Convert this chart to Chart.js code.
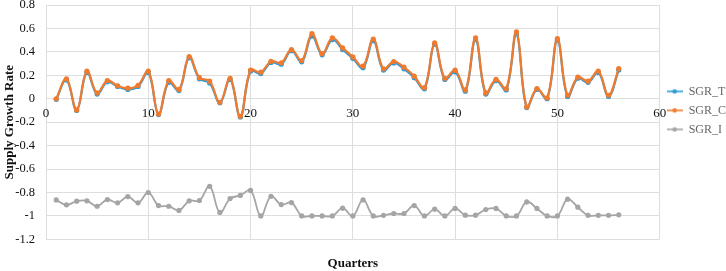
<!DOCTYPE html>
<html>
<head>
<meta charset="utf-8">
<script src="https://cdn.jsdelivr.net/npm/chart.js@4"></script>
<style>
  html, body { margin: 0; padding: 0; background: #fff; }
  #wrap { width: 726px; height: 271px; }
</style>
</head>
<body>
<div id="wrap"><canvas id="sgrChart" width="726" height="271"></canvas></div>
<script>
// Quarters 1..56
const quarters = [1, 2, 3, 4, 5, 6, 7, 8, 9, 10, 11, 12, 13, 14, 15, 16, 17, 18, 19, 20,
  21, 22, 23, 24, 25, 26, 27, 28, 29, 30, 31, 32, 33, 34, 35, 36, 37, 38, 39, 40,
  41, 42, 43, 44, 45, 46, 47, 48, 49, 50, 51, 52, 53, 54, 55, 56];

const sgrT = [-0.005, 0.16, -0.1, 0.225, 0.04, 0.145, 0.105, 0.08, 0.105, 0.225,
  -0.135, 0.14, 0.07, 0.35, 0.17, 0.135, -0.035, 0.165, -0.155, 0.235,
  0.215, 0.31, 0.295, 0.41, 0.315, 0.535, 0.375, 0.505, 0.42, 0.345,
  0.265, 0.495, 0.245, 0.305, 0.255, 0.18, 0.085, 0.465, 0.165, 0.23,
  0.065, 0.505, 0.04, 0.155, 0.075, 0.555, -0.075, 0.08, 0.0, 0.5,
  0.02, 0.175, 0.14, 0.225, 0.02, 0.245];

const sgrC = [0.0, 0.17, -0.095, 0.235, 0.05, 0.155, 0.11, 0.09, 0.115, 0.235,
  -0.13, 0.155, 0.08, 0.36, 0.18, 0.15, -0.03, 0.175, -0.15, 0.245,
  0.227, 0.32, 0.307, 0.42, 0.326, 0.555, 0.385, 0.52, 0.434, 0.357,
  0.278, 0.51, 0.256, 0.318, 0.27, 0.193, 0.095, 0.476, 0.174, 0.244,
  0.075, 0.52, 0.05, 0.165, 0.086, 0.57, -0.07, 0.086, 0.007, 0.513,
  0.03, 0.185, 0.15, 0.235, 0.03, 0.258];

const sgrI = [-0.863, -0.905, -0.874, -0.871, -0.917, -0.86, -0.888, -0.835, -0.888, -0.8,
  -0.911, -0.917, -0.953, -0.871, -0.868, -0.747, -0.97, -0.852, -0.825, -0.782,
  -1.0, -0.832, -0.903, -0.886, -1.0, -1.0, -1.0, -1.0, -0.934, -1.0,
  -0.863, -1.0, -0.995, -0.979, -0.979, -0.911, -1.0, -0.942, -1.0, -0.936,
  -0.993, -0.993, -0.945, -0.936, -1.0, -1.0, -0.88, -0.936, -1.0, -1.0,
  -0.857, -0.925, -0.995, -0.995, -0.995, -0.99];

const xTicks = [0, 10, 20, 30, 40, 50, 60];
const yTicks = [0.8, 0.6, 0.4, 0.2, 0, -0.2, -0.4, -0.6, -0.8, -1, -1.2];

const seriesNames = ['SGR_T', 'SGR_C', 'SGR_I'];
const seriesColors = ['#2f9bd6', '#f07b2f', '#a5a5a5'];

const serif = '"Liberation Serif", "Times New Roman", serif';

function toPoints(vals) {
  return vals.map((v, i) => ({ x: quarters[i], y: v }));
}

// little line-with-dot marker for the legend
function legendMarker(color) {
  const c = document.createElement('canvas');
  c.width = 16; c.height = 8;
  const g = c.getContext('2d');
  g.strokeStyle = color; g.lineWidth = 1.6;
  g.beginPath(); g.moveTo(0, 4); g.lineTo(16, 4); g.stroke();
  g.fillStyle = color;
  g.beginPath(); g.arc(8, 4, 2.3, 0, Math.PI * 2); g.fill();
  return c;
}

const allSeries = [sgrT, sgrC, sgrI];
const drawOrder = [2, 1, 0]; // orange drawn over blue
const datasets = allSeries.map((vals, i) => ({
  label: seriesNames[i],
  data: toPoints(vals),
  order: drawOrder[i],
  borderColor: seriesColors[i],
  backgroundColor: seriesColors[i],
  borderWidth: i === 2 ? 1.8 : 2.2,
  pointRadius: 2.6,
  pointHoverRadius: 2.6,
  pointBorderWidth: 0,
  tension: 0.4
}));

const ctx = document.getElementById('sgrChart').getContext('2d');
new Chart(ctx, {
  type: 'line',
  data: { datasets: datasets },
  options: {
    responsive: false,
    animation: false,
    layout: { padding: { top: 5, left: 0, right: -10, bottom: 0 } },
    scales: {
      x: {
        type: 'linear',
        min: 0, max: 60,
        position: { y: 0 },
        afterBuildTicks: s => { s.ticks = xTicks.map(v => ({ value: v })); },
        afterFit: s => { s.height = 0; },
        ticks: { color: '#111', font: { family: serif, size: 13 }, padding: 7 },
        grid: { color: '#dedede', lineWidth: 1, drawTicks: false },
        border: { display: false }
      },
      y: {
        min: -1.2, max: 0.8,
        afterBuildTicks: s => { s.ticks = yTicks.map(v => ({ value: v })); },
        afterFit: s => { s.width = 46; s.paddingTop = 5; s.paddingBottom = 5; },
        ticks: {
          color: '#111', font: { family: serif, size: 12.5 }, padding: 11,
          callback: v => String(Math.round(v * 10) / 10)
        },
        grid: { color: '#dedede', lineWidth: 1, drawTicks: false },
        border: { display: false },
        title: {
          display: true, text: 'Supply Growth Rate', color: '#111',
          font: { family: serif, size: 13, weight: 'bold' }, padding: { top: 2, bottom: 0 }
        }
      }
    },
    plugins: {
      title: {
        display: true, position: 'bottom', text: 'Quarters', color: '#111',
        fullSize: false,
        font: { family: serif, size: 13, weight: 'bold' },
        padding: { top: 16, bottom: 0 }
      },
      legend: {
        position: 'right',
        align: 'start',
        title: { display: true, text: ' ', padding: { top: 59, bottom: 0 } },
        labels: {
          color: '#111',
          font: { family: serif, size: 12 },
          usePointStyle: true,
          pointStyleWidth: 16,
          padding: 7,
          generateLabels: chart => chart.data.datasets.map((d, i) => ({
            text: d.label,
            fillStyle: d.borderColor,
            strokeStyle: d.borderColor,
            lineWidth: 0,
            pointStyle: legendMarker(d.borderColor),
            datasetIndex: i
          }))
        }
      },
      tooltip: { enabled: false }
    }
  }
});
</script>
</body>
</html>
